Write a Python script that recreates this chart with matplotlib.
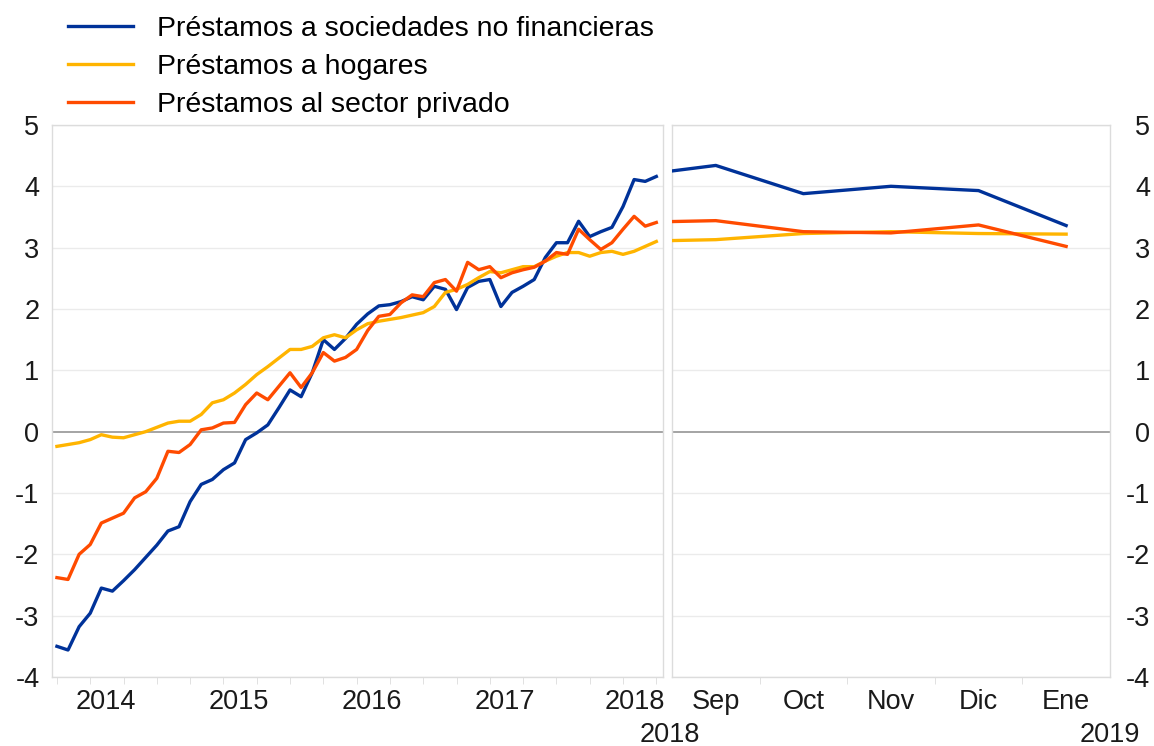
import matplotlib.pyplot as plt
import numpy as np

plt.rcParams['font.family'] = ['Liberation Sans', 'DejaVu Sans']

# monthly data, left panel (roughly Feb 2014 - Aug 2018)
nfc = [-3.50, -3.56, -3.18, -2.96, -2.55, -2.60, -2.43, -2.25, -2.05, -1.85,
       -1.62, -1.55, -1.14, -0.86, -0.78, -0.62, -0.51, -0.13, -0.02, 0.11,
       0.39, 0.68, 0.57, 0.96, 1.50, 1.34, 1.52, 1.75, 1.92, 2.05,
       2.07, 2.12, 2.20, 2.15, 2.37, 2.32, 1.99, 2.35, 2.45, 2.48,
       2.04, 2.27, 2.37, 2.48, 2.84, 3.08, 3.08, 3.43, 3.18, 3.26,
       3.33, 3.67, 4.11, 4.08, 4.16]
hogares = [-0.24, -0.21, -0.18, -0.13, -0.05, -0.09, -0.10, -0.05, 0.00, 0.07,
           0.14, 0.17, 0.17, 0.28, 0.47, 0.52, 0.63, 0.77, 0.93, 1.06,
           1.20, 1.34, 1.34, 1.39, 1.53, 1.58, 1.53, 1.66, 1.76, 1.80,
           1.83, 1.86, 1.90, 1.94, 2.04, 2.27, 2.32, 2.40, 2.51, 2.61,
           2.59, 2.64, 2.69, 2.69, 2.78, 2.86, 2.92, 2.92, 2.86, 2.92,
           2.94, 2.89, 2.94, 3.02, 3.10]
privado = [-2.38, -2.41, -2.00, -1.84, -1.49, -1.41, -1.33, -1.08, -0.98, -0.76,
           -0.32, -0.34, -0.21, 0.03, 0.06, 0.14, 0.15, 0.44, 0.63, 0.52,
           0.74, 0.96, 0.72, 0.96, 1.29, 1.15, 1.21, 1.34, 1.65, 1.88,
           1.91, 2.10, 2.23, 2.20, 2.43, 2.48, 2.29, 2.76, 2.64, 2.69,
           2.51, 2.59, 2.64, 2.68, 2.78, 2.92, 2.89, 3.30, 3.13, 2.97,
           3.08, 3.30, 3.51, 3.35, 3.41]
years = ['2014', '2015', '2016', '2017', '2018']

# right panel: Aug 2018 (clipped at the edge) to Jan 2019
meses = ['Ago', 'Sep', 'Oct', 'Nov', 'Dic', 'Ene']
nfc_r = [4.16, 4.34, 3.88, 4.00, 3.93, 3.36]
hogares_r = [3.10, 3.13, 3.23, 3.26, 3.23, 3.22]
privado_r = [3.41, 3.44, 3.26, 3.24, 3.37, 3.02]

labels = ['Préstamos a sociedades no financieras', 'Préstamos a hogares',
          'Préstamos al sector privado']
colors = ['#003299', '#ffb400', '#ff4b00']

fig = plt.figure(figsize=(11.54, 7.46), dpi=100)
ax1 = fig.add_axes([0.045, 0.0925, 0.5295, 0.740])
ax2 = fig.add_axes([0.5823, 0.0925, 0.3795, 0.740])

grid_col = '#ebebeb'
frame_col = '#dcdcdc'
fs = 19.5

for ax in (ax1, ax2):
    ax.set_ylim(-4, 5)
    ax.set_yticks(range(-4, 6))
    for v in range(-4, 6):
        if v != 0:
            ax.axhline(v, color=grid_col, lw=1, zorder=0)
    ax.axhline(0, color='#8c8c8c', lw=1.1, zorder=1)
    for s in ax.spines.values():
        s.set_color(frame_col)
        s.set_linewidth(1)

# left panel
x = np.arange(len(nfc))
for series, c in zip([nfc, hogares, privado], colors):
    ax1.plot(x, series, color=c, lw=2.4, zorder=3)
ax1.set_xlim(-0.45, 54.6)
ax1.set_xticks([4.4, 16.4, 28.4, 40.4, 52.1])
ax1.set_xticklabels(years, fontsize=fs)
ax1.set_xticks(np.arange(0, 55, 3), minor=True)
ax1.tick_params(axis='x', which='major', length=0, pad=9)
ax1.tick_params(axis='x', which='minor', length=5, color=frame_col)
ax1.tick_params(axis='y', length=0, pad=9, labelsize=fs)
ax1.set_yticklabels([str(v) for v in range(-4, 6)])

# right panel
xr = np.arange(len(meses))
for series, c in zip([nfc_r, hogares_r, privado_r], colors):
    ax2.plot(xr, series, color=c, lw=2.4, zorder=3)
ax2.set_xlim(0.5, 5.5)
ax2.set_xticks(xr[1:])
ax2.set_xticklabels(meses[1:], fontsize=fs)
ax2.set_xticks(np.arange(1.5, 5, 1), minor=True)
ax2.tick_params(axis='x', which='major', length=0, pad=9)
ax2.tick_params(axis='x', which='minor', length=5, color=frame_col)
ax2.yaxis.tick_right()
ax2.tick_params(axis='y', length=0, pad=29, labelsize=fs)
ax2.set_yticklabels([str(v) for v in range(-4, 6)])
for t in ax2.get_yticklabels():
    t.set_horizontalalignment('right')

ax2.text(-0.005, -0.105, '2018', transform=ax2.transAxes, ha='center',
         va='center', fontsize=fs, color='#1a1a1a')
ax2.text(1.0, -0.105, '2019', transform=ax2.transAxes, ha='center',
         va='center', fontsize=fs, color='#1a1a1a')

for ax in (ax1, ax2):
    for t in ax.get_xticklabels() + ax.get_yticklabels():
        t.set_color('#1a1a1a')

handles = [plt.Line2D([], [], color=c, lw=2.4) for c in colors]
fig.legend(handles, labels, loc='upper left', bbox_to_anchor=(0.054, 0.986),
           frameon=False, fontsize=20.5, handlelength=2.3, handletextpad=0.82,
           labelspacing=0.42, borderpad=0.2, borderaxespad=0)

fig.savefig('out.png', dpi=100)
